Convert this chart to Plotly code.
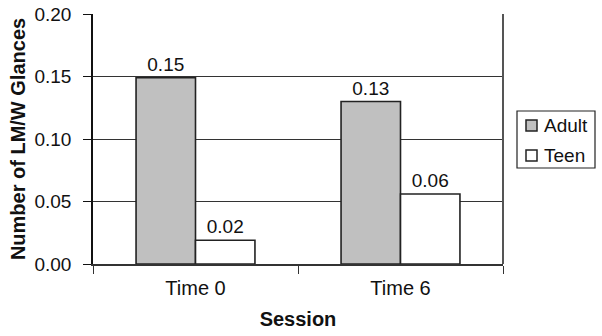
import plotly.graph_objects as go

sessions = ["Time 0", "Time 6"]
adult = [0.149, 0.130]
teen = [0.019, 0.056]
y_ticks = [0.00, 0.05, 0.10, 0.15, 0.20]
y_tick_labels = ["0.00", "0.05", "0.10", "0.15", "0.20"]
series_names = ["Adult", "Teen"]
series_colors = ["#c0c0c0", "#ffffff"]

FONT = "Liberation Sans, Arial, Helvetica, sans-serif"
INK = "#111111"

W, H = 602, 336
ML, MR, MT, MB = 93, 99, 14, 72
PW, PH = W - ML - MR, H - MT - MB


def px_to_paper_x(px):
    return (px - ML) / PW


def px_to_paper_y(py):
    return (H - MB - py) / PH


fig = go.Figure()
for name, vals, col in zip(series_names, [adult, teen], series_colors):
    fig.add_trace(go.Bar(
        name=name, x=sessions, y=vals,
        marker=dict(color=col, line=dict(color="#222222", width=1.6)),
        text=[f"{v:.2f}" for v in vals], textposition="outside",
        textfont=dict(size=19, color=INK, family=FONT), cliponaxis=False,
        showlegend=False,
    ))

fig.update_layout(
    width=W, height=H,
    margin=dict(l=ML, r=MR, t=MT, b=MB, autoexpand=False),
    paper_bgcolor="white", plot_bgcolor="white",
    barmode="group", bargap=0.42, bargroupgap=0,
    font=dict(family=FONT, size=19, color=INK),
    showlegend=False,
)

fig.update_yaxes(
    range=[0, 0.2], tickvals=y_ticks, ticktext=y_tick_labels,
    showgrid=True, gridcolor="#333333", gridwidth=1,
    showline=True, linecolor=INK, linewidth=1.5,
    ticks="outside", ticklen=8, tickcolor=INK, tickwidth=1.2,
    ticklabelstandoff=8, automargin=False, ticklabeloverflow="allow",
    tickfont=dict(size=19, family=FONT, color=INK),
    title=dict(text="<b>Number of LM/W Glances</b>", font=dict(size=20, family=FONT, color=INK), standoff=3),
    zeroline=False,
)
fig.update_xaxes(
    showline=True, linecolor="#333333", linewidth=1.5,
    ticks="outside", tickson="boundaries", ticklen=8, tickcolor="#333333", tickwidth=1.2,
    automargin=False, ticklabelstandoff=5,
    tickfont=dict(size=20, family=FONT, color=INK),
    title=dict(text="<b>Session</b>", font=dict(size=20, family=FONT, color=INK), standoff=14),
)

# right frame line of plot area
fig.add_shape(type="line", xref="paper", yref="paper", x0=1, x1=1, y0=0, y1=1,
              line=dict(color="#555555", width=2))

# legend box (drawn to match the reference's compact legend)
fig.add_shape(type="rect", xref="paper", yref="paper",
              x0=px_to_paper_x(517), x1=px_to_paper_x(595),
              y0=px_to_paper_y(168), y1=px_to_paper_y(111),
              line=dict(color="#222222", width=1.2), fillcolor="white")
row_centers = [125.5, 155.5]
for name, col, cy in zip(series_names, series_colors, row_centers):
    fig.add_shape(type="rect", xref="paper", yref="paper",
                  x0=px_to_paper_x(526), x1=px_to_paper_x(537),
                  y0=px_to_paper_y(cy + 5.5), y1=px_to_paper_y(cy - 5.5),
                  line=dict(color="#222222", width=1.5), fillcolor=col)
    fig.add_annotation(xref="paper", yref="paper", x=px_to_paper_x(542), y=px_to_paper_y(cy),
                       xanchor="left", yanchor="middle", text=name, showarrow=False,
                       font=dict(size=19, family=FONT, color=INK))

# remove the browser's default 8px body margin so the figure fills the window exactly
fig.write_html("out.html", config={"displayModeBar": False},
               post_script="document.body.style.margin='0';")
